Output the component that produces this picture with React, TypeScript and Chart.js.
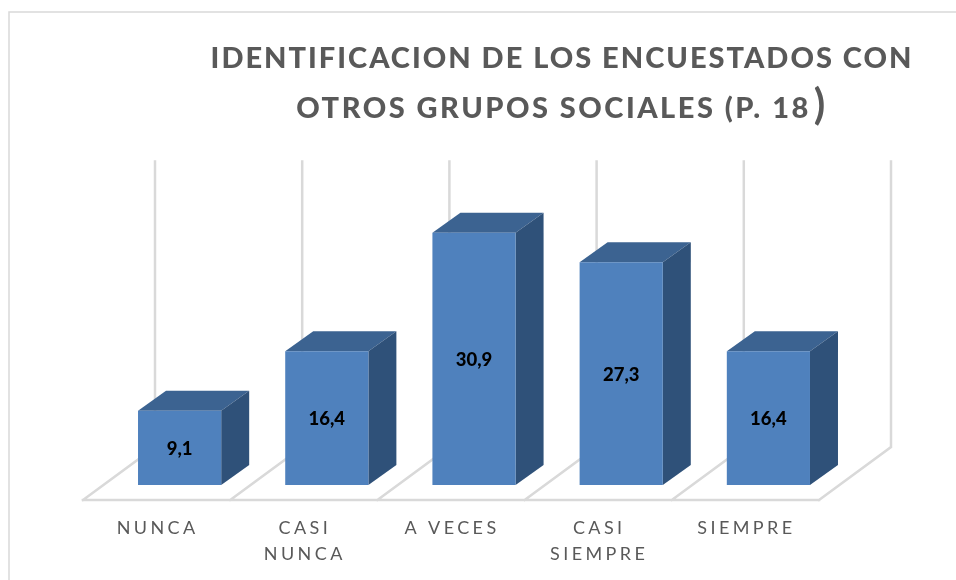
import React, { useEffect, useRef } from "react";
import { Chart, registerables } from "chart.js";

Chart.register(...registerables);

const categories = [["NUNCA"], ["CASI", "NUNCA"], ["A VECES"], ["CASI", "SIEMPRE"], ["SIEMPRE"]];
const values = [9.1, 16.4, 30.9, 27.3, 16.4];
const valueLabels = ["9,1", "16,4", "30,9", "27,3", "16,4"];
const titleLines = ["IDENTIFICACION DE LOS ENCUESTADOS CON", "OTROS GRUPOS SOCIALES (P. 18"];
const titleTail = ")";

const FRONT = "#4F81BD";
const TOP = "#3C6391";
const SIDE = "#2F5179";
const GRID = "#D9D9D9";
const FONT = "Lato, Carlito, sans-serif";

const threeD = {
  id: "threeD",
  beforeDraw(chart: any) {
    const ctx = chart.ctx;
    ctx.save();
    ctx.strokeStyle = GRID;
    ctx.lineWidth = 1.5;
    ctx.beginPath();
    ctx.moveTo(956, 12);
    ctx.lineTo(9, 12);
    ctx.lineTo(9, 580);
    ctx.stroke();
    ctx.restore();

    // title
    ctx.save();
    ctx.fillStyle = "#595959";
    ctx.font = `900 29px ${FONT}`;
    ctx.textAlign = "left";
    ctx.textBaseline = "alphabetic";
    ctx.letterSpacing = "2px";
    const w0 = ctx.measureText(titleLines[0]).width;
    ctx.fillText(titleLines[0], 562 - w0 / 2, 68);
    ctx.letterSpacing = "2.5px";
    const w1 = ctx.measureText(titleLines[1]).width;
    const x1 = 562 - (w1 + 17) / 2;
    ctx.fillText(titleLines[1], x1, 118);
    ctx.font = `bold 42px ${FONT}`;
    ctx.letterSpacing = "0px";
    ctx.fillText(titleTail, x1 + w1 + 3, 119);
    ctx.restore();

    (ctx as any).letterSpacing = "3.4px";
  },
  beforeDatasetsDraw(chart: any) {
    const ctx = chart.ctx;
    ctx.letterSpacing = "0px";
    const { x: xs, y: ys } = chart.scales;
    const step = xs.getPixelForTick(1) - xs.getPixelForTick(0);
    const floorFrontY = ys.getPixelForValue(0) + 15;
    const backY0 = ys.getPixelForValue(0) - 38;
    const backYTop = ys.getPixelForValue(ys.max) - 38;
    const frontLeft = xs.getPixelForTick(0) - step / 2 - 23;
    const backShift = 72;

    ctx.save();
    ctx.strokeStyle = GRID;
    ctx.lineWidth = 2.5;
    ctx.lineCap = "square";
    ctx.lineJoin = "miter";
    ctx.beginPath();
    for (let i = 0; i <= values.length; i++) {
      const fx = frontLeft + i * step;
      const bx = fx + backShift;
      ctx.moveTo(fx, floorFrontY);
      ctx.lineTo(bx, backY0);
      ctx.lineTo(bx, backYTop);
    }
    ctx.moveTo(frontLeft, floorFrontY);
    ctx.lineTo(frontLeft + values.length * step, floorFrontY);
    ctx.stroke();
    ctx.restore();

    const dx = 28;
    const dy = 20;
    const bars = chart.getDatasetMeta(0).data;
    bars.forEach((bar: any) => {
      const l = bar.x - bar.width / 2;
      const r = bar.x + bar.width / 2;
      const t = bar.y;
      const b = bar.base;
      ctx.fillStyle = TOP;
      ctx.beginPath();
      ctx.moveTo(l, t);
      ctx.lineTo(l + dx, t - dy);
      ctx.lineTo(r + dx, t - dy);
      ctx.lineTo(r, t);
      ctx.closePath();
      ctx.fill();
      ctx.fillStyle = SIDE;
      ctx.beginPath();
      ctx.moveTo(r, t);
      ctx.lineTo(r + dx, t - dy);
      ctx.lineTo(r + dx, b - dy);
      ctx.lineTo(r, b);
      ctx.closePath();
      ctx.fill();
    });
  },
  afterDatasetsDraw(chart: any) {
    const ctx = chart.ctx;
    const bars = chart.getDatasetMeta(0).data;
    ctx.save();
    ctx.fillStyle = "#000000";
    ctx.font = `900 18.5px ${FONT}`;
    ctx.textAlign = "center";
    ctx.textBaseline = "middle";
    bars.forEach((bar: any, i: number) => {
      ctx.fillText(valueLabels[i], bar.x, (bar.y + bar.base) / 2 + 1);
    });
    ctx.restore();
  },
};

export default function App() {
  const ref = useRef<HTMLCanvasElement>(null);
  useEffect(() => {
    const chart = new Chart(ref.current as HTMLCanvasElement, {
      type: "bar",
      data: {
        labels: categories as any,
        datasets: [
          {
            data: values,
            backgroundColor: FRONT,
            borderWidth: 0,
            categoryPercentage: 1,
            barPercentage: 0.565,
          },
        ],
      },
      options: {
        responsive: false,
        animation: false,
        layout: { padding: { left: 106, right: 114, top: 199.4, bottom: 0 } },
        plugins: { legend: { display: false }, title: { display: false }, tooltip: { enabled: false } },
        scales: {
          x: {
            grid: { display: false },
            border: { display: false },
            afterFit: (s: any) => {
              s.height = 95;
            },
            ticks: {
              autoSkip: false,
              maxRotation: 0,
              minRotation: 0,
              padding: 22,
              labelOffset: -22,
              color: "#595959",
              font: { family: FONT, size: 18, lineHeight: 1.45 },
            },
          },
          y: { display: false, min: 0, max: 35 },
        },
      },
      plugins: [threeD],
    });
    return () => chart.destroy();
  }, []);
  return (
    <canvas
      ref={ref}
      width={956}
      height={580}
      style={{ position: "fixed", left: 0, top: 0, width: 956, height: 580, display: "block", background: "#fff" }}
    />
  );
}
